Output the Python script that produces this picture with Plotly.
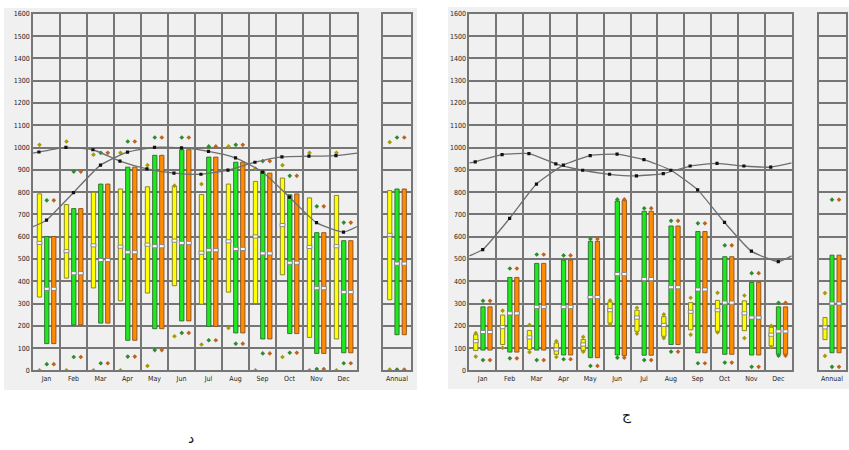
import plotly.graph_objects as go

W, H = 849, 450

months = ["Jan", "Feb", "Mar", "Apr", "May", "Jun", "Jul", "Aug", "Sep", "Oct", "Nov", "Dec"]
y_ticks = list(range(0, 1700, 100))

# ---- Panel "د" (left) ----
L_yel_low = [329, 414, 370, 312, 347, 380, 297, 351, 300, 429, 148, 141]
L_yel_high = [792, 744, 799, 814, 824, 826, 789, 836, 848, 863, 774, 785]
L_yel_med = [572, 535, 561, 555, 564, 582, 528, 579, 601, 652, 554, 557]
L_yel_max = [1012, 1027, 968, 976, 921, 829, 836, 1005, 905, 921, 976, 976]
L_yel_min = [0, 0, 0, 0, 20, 153, 116, 190, 0, 60, 0, 0]

L_grn_low = [120, 204, 212, 135, 187, 222, 197, 168, 141, 165, 76, 79]
L_grn_high = [601, 726, 836, 912, 965, 990, 957, 934, 892, 788, 618, 582]
L_grn_med = [366, 436, 495, 530, 557, 572, 539, 545, 525, 483, 369, 351]
L_grn_max = [763, 892, 976, 1027, 1045, 1045, 1005, 1012, 939, 873, 736, 663]
L_grn_min = [28, 60, 32, 62, 91, 168, 135, 120, 76, 79, 6, 32]

L_org_low = [120, 204, 212, 135, 187, 222, 197, 168, 141, 165, 76, 79]
L_org_high = [601, 726, 836, 912, 965, 990, 957, 934, 885, 792, 618, 582]
L_org_med = [366, 436, 495, 530, 557, 572, 539, 545, 525, 483, 369, 351]
L_org_max = [763, 892, 976, 1027, 1045, 1045, 1005, 1012, 939, 873, 736, 663]
L_org_min = [28, 60, 32, 62, 91, 168, 135, 120, 76, 79, 6, 32]

L_line_a = [980, 1001, 990, 939, 904, 885, 880, 899, 934, 958, 961, 964]
L_line_a_edge = 975
L_line_b = [674, 798, 921, 979, 1001, 998, 983, 954, 890, 777, 663, 620]
L_line_b_edge = 645

# annual: low, high, median, max, min  (yellow, green, orange)
L_ann_low = [317, 160, 160]
L_ann_high = [807, 814, 814]
L_ann_med = [608, 479, 479]
L_ann_max = [1024, 1045, 1045]
L_ann_min = [4, 4, 4]

# ---- Panel "ج" (right) ----
R_yel_low = [89, 116, 94, 72, 89, 212, 175, 153, 182, 175, 178, 109]
R_yel_high = [160, 248, 179, 123, 138, 307, 270, 241, 304, 314, 312, 193]
R_yel_med = [131, 194, 148, 94, 116, 270, 237, 204, 263, 270, 256, 160]
R_yel_max = [167, 268, 204, 131, 150, 314, 281, 251, 326, 348, 336, 200]
R_yel_min = [62, 101, 82, 60, 84, 205, 165, 145, 160, 170, 145, 104]

R_grn_low = [91, 82, 91, 69, 57, 69, 68, 116, 79, 72, 69, 72]
R_grn_high = [285, 417, 480, 495, 579, 760, 714, 648, 623, 510, 395, 285]
R_grn_med = [172, 256, 285, 285, 329, 432, 410, 373, 363, 304, 237, 175]
R_grn_max = [312, 457, 520, 516, 590, 767, 727, 671, 660, 561, 436, 303]
R_grn_min = [46, 54, 46, 50, 20, 57, 46, 84, 32, 35, 16, 66]

R_org_low = [91, 82, 91, 69, 57, 66, 68, 116, 79, 72, 69, 72]
R_org_high = [285, 417, 480, 495, 579, 762, 714, 648, 623, 510, 395, 285]
R_org_med = [172, 256, 285, 285, 329, 432, 410, 373, 363, 304, 237, 175]
R_org_max = [312, 457, 520, 516, 590, 767, 727, 671, 660, 561, 436, 303]
R_org_min = [46, 54, 46, 50, 20, 57, 46, 84, 32, 35, 16, 66]

R_line_a = [936, 968, 973, 927, 898, 880, 873, 883, 917, 929, 917, 912]
R_line_a_edge = 931
R_line_b = [542, 682, 836, 921, 964, 970, 946, 898, 810, 664, 535, 488]
R_line_b_edge = 514

R_ann_low = [138, 79, 79]
R_ann_high = [237, 517, 517]
R_ann_med = [193, 300, 300]
R_ann_max = [347, 766, 766]
R_ann_min = [65, 16, 16]

# ---- styling ----
FILL = ["#ffff00", "#1ee81e", "#ff8c00"]
EDGE = ["#7a7a30", "#2f6a2f", "#8a5020"]
DOT = ["#a89a00", "#2e8b2e", "#c0621a"]
GRID = "#767676"
BG = "#f0f0f0"
FONT = "Liberation Sans Narrow, DejaVu Sans Condensed, Arial Narrow, sans-serif"

OFFS = [0.24, 0.51, 0.77]
ANN_OFFS = [0.24, 0.5, 0.76]
BAR_W = 0.16
ANN_W = 0.15
MED_H = 14

fig = go.Figure()


def add_group(xs, low, high, med, mx, mn, k, xa, ya, width):
    fig.add_trace(go.Bar(
        x=xs, base=low, y=[h - l for h, l in zip(high, low)], width=width,
        marker=dict(color=FILL[k], line=dict(color=EDGE[k], width=0.9)),
        xaxis=xa, yaxis=ya, showlegend=False, hoverinfo="skip"))
    fig.add_trace(go.Bar(
        x=xs, base=[m - MED_H / 2 for m in med], y=[MED_H] * len(med), width=width * 1.1,
        marker=dict(color="#ffffff", line=dict(color="#808080", width=0.9)),
        xaxis=xa, yaxis=ya, showlegend=False, hoverinfo="skip"))
    fig.add_trace(go.Scatter(
        x=xs + xs, y=list(mx) + list(mn), mode="markers",
        marker=dict(symbol="diamond", size=3.6, color=DOT[k]),
        xaxis=xa, yaxis=ya, showlegend=False, hoverinfo="skip"))


def add_panel(groups, ann, line_a, a_edge, line_b, b_edge, xm, ym, xn, yn):
    n = len(months)
    for k, g in enumerate(groups):
        xs = [i + OFFS[k] for i in range(n)]
        add_group(xs, *g, k, xm, ym, BAR_W)
    for k in range(3):
        add_group([ANN_OFFS[k]], [ann[0][k]], [ann[1][k]], [ann[2][k]],
                  [ann[3][k]], [ann[4][k]], k, xn, yn, ANN_W)
    for vals, edge, off in ((line_a, a_edge, 0.22), (line_b, b_edge, 0.5)):
        xs = [i + off for i in range(n)]
        fig.add_trace(go.Scatter(
            x=[0] + xs + [n], y=[edge] + list(vals) + [edge], mode="lines",
            line=dict(color="#6e6e6e", width=1.3, shape="spline", smoothing=0.5),
            xaxis=xm, yaxis=ym, showlegend=False, hoverinfo="skip"))
        fig.add_trace(go.Scatter(
            x=xs, y=vals, mode="markers",
            marker=dict(symbol="square", size=3.2, color="#111111"),
            xaxis=xm, yaxis=ym, showlegend=False, hoverinfo="skip"))


add_panel(
    [(L_yel_low, L_yel_high, L_yel_med, L_yel_max, L_yel_min),
     (L_grn_low, L_grn_high, L_grn_med, L_grn_max, L_grn_min),
     (L_org_low, L_org_high, L_org_med, L_org_max, L_org_min)],
    (L_ann_low, L_ann_high, L_ann_med, L_ann_max, L_ann_min),
    L_line_a, L_line_a_edge, L_line_b, L_line_b_edge, "x", "y", "x2", "y2")

add_panel(
    [(R_yel_low, R_yel_high, R_yel_med, R_yel_max, R_yel_min),
     (R_grn_low, R_grn_high, R_grn_med, R_grn_max, R_grn_min),
     (R_org_low, R_org_high, R_org_med, R_org_max, R_org_min)],
    (R_ann_low, R_ann_high, R_ann_med, R_ann_max, R_ann_min),
    R_line_a, R_line_a_edge, R_line_b, R_line_b_edge, "x3", "y3", "x4", "y4")


def px_x(a, b):
    return [a / W, b / W]


ydom = [1 - 373 / H, 1 - 10 / H]

yaxis_base = dict(range=[0, 1600], domain=ydom, tickvals=y_ticks, showgrid=True,
                  gridcolor=GRID, gridwidth=1.6, showline=True, mirror=True,
                  linecolor=GRID, linewidth=1.6, zeroline=False, ticks="",
                  tickfont=dict(family=FONT, size=7, color="#222"), fixedrange=True)

main_x = dict(range=[0, 12], tickvals=[i + 0.5 for i in range(12)], ticktext=months,
              showgrid=False, showline=True, mirror=True, linecolor=GRID, linewidth=1.6,
              zeroline=False, ticks="",
              minor=dict(tick0=0, dtick=1, showgrid=True, gridcolor=GRID, gridwidth=1.6),
              tickfont=dict(family=FONT, size=7, color="#222"), fixedrange=True)

ann_x = dict(range=[0, 1], tickvals=[0.5], ticktext=["Annual"], showgrid=False,
             showline=True, mirror=True, linecolor=GRID, linewidth=1.6, zeroline=False,
             ticks="", tickfont=dict(family=FONT, size=7, color="#222"), fixedrange=True)

fig.update_layout(
    width=W, height=H, margin=dict(l=0, r=0, t=0, b=0),
    paper_bgcolor="#ffffff", plot_bgcolor="#ffffff", barmode="overlay",
    xaxis=dict(main_x, domain=px_x(33, 357), anchor="y"),
    yaxis=dict(yaxis_base, anchor="x"),
    xaxis2=dict(ann_x, domain=px_x(383, 411), anchor="y2"),
    yaxis2=dict(yaxis_base, anchor="x2", showticklabels=False),
    xaxis3=dict(main_x, domain=px_x(469.3, 791.7), anchor="y3"),
    yaxis3=dict(yaxis_base, anchor="x3"),
    xaxis4=dict(ann_x, domain=px_x(818.5, 845.5), anchor="y4"),
    yaxis4=dict(yaxis_base, anchor="x4", showticklabels=False),
    shapes=[
        dict(type="rect", xref="paper", yref="paper", x0=4 / W, x1=417 / W,
             y0=1 - 393 / H, y1=1 - 4 / H, fillcolor=BG, line=dict(width=0), layer="below"),
        dict(type="rect", xref="paper", yref="paper", x0=448 / W, x1=1,
             y0=1 - 392 / H, y1=1 - 3 / H, fillcolor=BG, line=dict(width=0), layer="below"),
    ],
    annotations=[
        dict(text="د", x=186 / W, y=1 - 452 / H, xref="paper", yref="paper",
             yanchor="bottom", showarrow=False,
             font=dict(size=14, color="#111", family="DejaVu Sans")),
        dict(text="ج", x=634 / W, y=1 - 430 / H, xref="paper", yref="paper",
             yanchor="bottom", showarrow=False,
             font=dict(size=14, color="#111", family="DejaVu Sans")),
    ],
)

fig.write_html("out.html")
